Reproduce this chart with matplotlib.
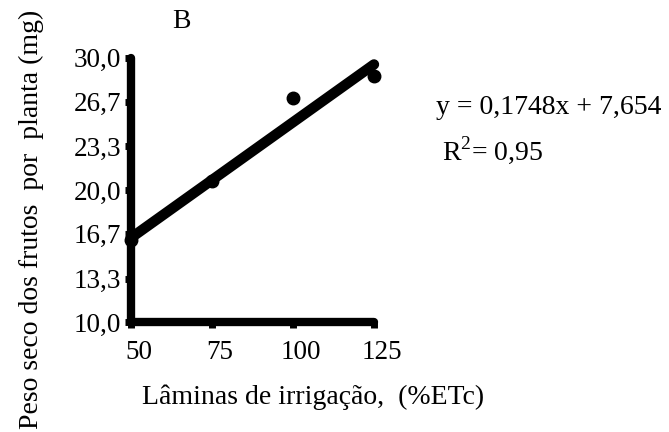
import matplotlib
matplotlib.use('Agg')
import matplotlib.pyplot as plt
import matplotlib.transforms as mtransforms
import numpy as np

# irrigation depth (%ETc) and fruit dry weight per plant (mg)
laminas = [50, 75, 100, 125]
peso = [16.2, 20.7, 27.0, 28.6]
# fitted linear model
coef_a = 0.1748
coef_b = 7.654
r2 = 0.95
yticks = [10.0, 13.3, 16.7, 20.0, 23.3, 26.7, 30.0]
ytick_labels = ['10,0', '13,3', '16,7', '20,0', '23,3', '26,7', '30,0']

plt.rcParams['font.family'] = ['Liberation Serif', 'DejaVu Serif']

fig = plt.figure(figsize=(6.69, 4.32), dpi=100)
ax = fig.add_axes([0.196, 0.254, 0.363, 0.612])

xfit = np.array([laminas[0], laminas[-1]])
ax.plot(xfit, coef_a * xfit + coef_b, color='black', lw=7.5,
        solid_capstyle='round', clip_on=False, zorder=3)
ax.plot(laminas, peso, 'o', color='black', ms=9, clip_on=False, zorder=4)

ax.set_xlim(50, 125)
ax.set_ylim(10, 30)
ax.set_xticks(laminas)
ax.set_yticks(yticks)
ax.set_yticklabels(ytick_labels)

for side in ['top', 'right']:
    ax.spines[side].set_visible(False)
for side in ['left', 'bottom']:
    ax.spines[side].set_linewidth(6)
    ax.spines[side].set_capstyle('round')
ax.tick_params(axis='both', length=4, width=5, labelsize=19.5, color='black')
ax.tick_params(axis='y', pad=3)
ax.tick_params(axis='x', pad=9)

# x tick labels sit a little to the right of their ticks
shift = mtransforms.ScaledTranslation(8 / 100, 0, fig.dpi_scale_trans)
for lbl in ax.get_xticklabels():
    lbl.set_transform(lbl.get_transform() + shift)

ax.set_xlabel('Lâminas de irrigação,  (%ETc)', fontsize=20, labelpad=14)
ax.xaxis.label.set_x(0.75)
fig.text(31 / 669, 1 - 219 / 432, 'Peso seco dos frutos  por  planta (mg)',
         fontsize=20, rotation=90, ha='center', va='center')
fig.text(181 / 669, 1 - 22 / 432, 'B', fontsize=20, ha='center', va='center')

fig.text(0.651, 1 - 107 / 432, 'y = 0,1748x + 7,654', fontsize=20, va='center')
fig.text(0.661, 1 - 150 / 432, r'R$^{\mathregular{2}}$= 0,95', fontsize=20,
         va='center')

fig.savefig('out.png', dpi=100)
